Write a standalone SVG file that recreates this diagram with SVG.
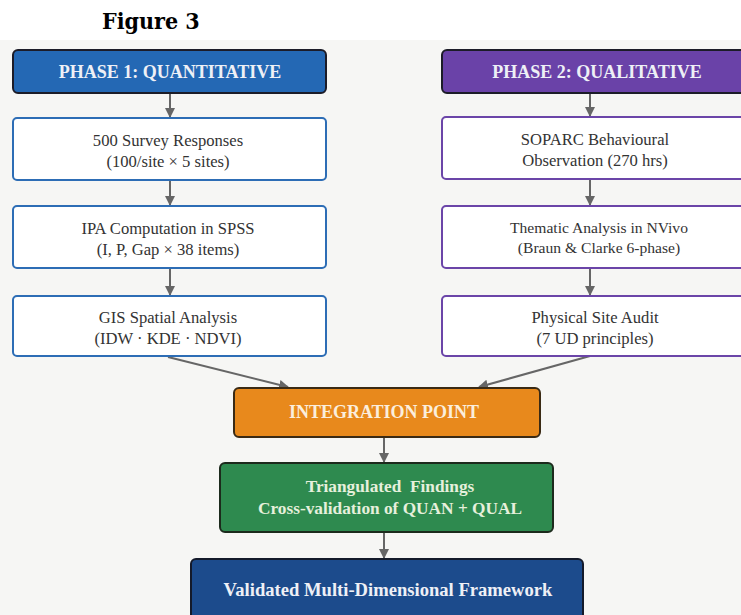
<svg xmlns="http://www.w3.org/2000/svg" width="741" height="615" viewBox="0 0 741 615">
  <style>
    .title { font-family: "DejaVu Serif", "Liberation Serif", serif; font-weight: bold; font-stretch: condensed; font-size: 23px; fill: #000; }
    .head { font-family: "Liberation Serif", serif; font-weight: bold; font-size: 18px; fill: #eef0f6; text-anchor: middle; }
    .body { font-family: "Liberation Serif", serif; font-size: 16.6px; fill: #333; text-anchor: middle; }
    .bold { font-family: "Liberation Serif", serif; font-weight: bold; text-anchor: middle; }
    .quan { fill: #fff; stroke: #2d6db5; stroke-width: 2; }
    .qual { fill: #fff; stroke: #6b45a8; stroke-width: 2; }
    .edge { stroke: #666; stroke-width: 2; fill: none; marker-end: url(#arrow); }
  </style>
  <defs>
    <marker id="arrow" viewBox="0 0 10 10" refX="9" refY="5" markerWidth="5" markerHeight="5" orient="auto" markerUnits="strokeWidth">
      <path d="M0,0 L10,5 L0,10 z" fill="#666"/>
    </marker>
  </defs>

  <rect x="0" y="0" width="741" height="615" fill="#fff"/>
  <rect x="0" y="40" width="741" height="575" fill="#f6f6f4"/>

  <text class="title" x="102" y="29">Figure 3</text>

  <g id="connectors">
    <line class="edge" x1="170" y1="93" x2="170" y2="117"/>
    <line class="edge" x1="170" y1="180" x2="170" y2="205"/>
    <line class="edge" x1="170" y1="268" x2="170" y2="295"/>
    <line class="edge" x1="590" y1="93" x2="590" y2="116"/>
    <line class="edge" x1="590" y1="179" x2="590" y2="205"/>
    <line class="edge" x1="590" y1="268" x2="590" y2="295"/>
    <line class="edge" x1="168" y1="357" x2="288" y2="387"/>
    <line class="edge" x1="590" y1="356" x2="479" y2="387"/>
    <line class="edge" x1="384" y1="437" x2="384" y2="462"/>
    <line class="edge" x1="384" y1="532" x2="384" y2="558"/>
  </g>

  <g id="phase1">
    <rect x="13" y="50" width="313" height="43" rx="5" fill="#2468b4" stroke="#1c1c28" stroke-width="2"/>
    <text class="head" x="170" y="78">PHASE 1: QUANTITATIVE</text>
  </g>
  <g id="survey">
    <rect class="quan" x="13" y="118" width="313" height="62" rx="4"/>
    <text class="body" x="168" y="146">500 Survey Responses</text>
    <text class="body" x="168" y="167">(100/site × 5 sites)</text>
  </g>
  <g id="ipa">
    <rect class="quan" x="13" y="206" width="313" height="62" rx="4"/>
    <text class="body" x="168" y="234">IPA Computation in SPSS</text>
    <text class="body" x="168" y="255">(I, P, Gap × 38 items)</text>
  </g>
  <g id="gis">
    <rect class="quan" x="13" y="296" width="313" height="60" rx="4"/>
    <text class="body" x="168" y="323">GIS Spatial Analysis</text>
    <text class="body" x="168" y="344">(IDW · KDE · NDVI)</text>
  </g>

  <g id="phase2">
    <rect x="442" y="50" width="310" height="43" rx="5" fill="#6a42a8" stroke="#1c1c28" stroke-width="2"/>
    <text class="head" x="597" y="78">PHASE 2: QUALITATIVE</text>
  </g>
  <g id="soparc">
    <rect class="qual" x="442" y="117" width="310" height="62" rx="4"/>
    <text class="body" x="595" y="145">SOPARC Behavioural</text>
    <text class="body" x="595" y="166">Observation (270 hrs)</text>
  </g>
  <g id="thematic">
    <rect class="qual" x="442" y="206" width="310" height="62" rx="4"/>
    <text class="body" x="599" y="233" style="font-size:15.6px">Thematic Analysis in NVivo</text>
    <text class="body" x="599" y="253" style="font-size:15.6px">(Braun &amp; Clarke 6-phase)</text>
  </g>
  <g id="audit">
    <rect class="qual" x="442" y="296" width="310" height="60" rx="4"/>
    <text class="body" x="595" y="323">Physical Site Audit</text>
    <text class="body" x="595" y="344">(7 UD principles)</text>
  </g>

  <g id="integration">
    <rect x="234" y="388" width="306" height="49" rx="5" fill="#e8891c" stroke="#3a2a14" stroke-width="2"/>
    <text class="bold" x="384" y="418" style="font-size:18px;fill:#fbeedd">INTEGRATION POINT</text>
  </g>
  <g id="triangulated">
    <rect x="220" y="463" width="333" height="69" rx="5" fill="#2e8a4f" stroke="#1c2a1c" stroke-width="2"/>
    <text class="bold" x="390" y="492" style="font-size:17.3px;fill:#e6f0dc" xml:space="preserve">Triangulated  Findings</text>
    <text class="bold" x="390" y="514" style="font-size:17.3px;fill:#e6f0dc">Cross-validation of QUAN + QUAL</text>
  </g>
  <g id="framework">
    <rect x="191" y="559" width="392" height="64" rx="5" fill="#1c4b8c" stroke="#141a2a" stroke-width="2"/>
    <text class="bold" x="388" y="596" style="font-size:18.6px;fill:#eef0f6">Validated Multi-Dimensional Framework</text>
  </g>
</svg>
